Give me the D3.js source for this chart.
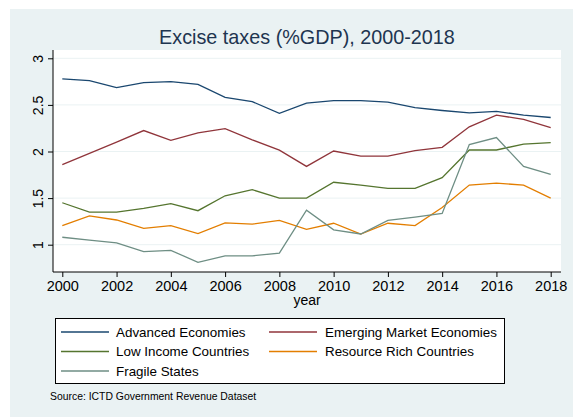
<!DOCTYPE html>
<html><head><meta charset="utf-8">
<script src="https://cdn.jsdelivr.net/npm/d3@7"></script>
<style>body{margin:0;background:#fff;}text{font-family:"Liberation Sans",Arial,sans-serif;}</style>
</head><body><svg id="c" width="573" height="417"></svg>
<script>
const years = [2000,2001,2002,2003,2004,2005,2006,2007,2008,2009,2010,2011,2012,2013,2014,2015,2016,2017,2018];
const advanced = [2.78,2.76,2.685,2.74,2.75,2.72,2.58,2.535,2.41,2.52,2.545,2.545,2.53,2.47,2.44,2.415,2.43,2.39,2.365];
const emerging = [1.86,1.98,2.10,2.225,2.12,2.20,2.245,2.125,2.015,1.84,2.005,1.95,1.95,2.01,2.045,2.265,2.39,2.345,2.255];
const lowIncome = [1.45,1.35,1.35,1.39,1.44,1.365,1.525,1.59,1.50,1.50,1.67,1.64,1.605,1.605,1.72,2.016,2.016,2.08,2.095];
const resourceRich = [1.205,1.31,1.265,1.175,1.205,1.12,1.235,1.22,1.26,1.165,1.23,1.115,1.23,1.205,1.40,1.64,1.66,1.64,1.50];
const fragile = [1.08,1.05,1.02,0.925,0.94,0.81,0.88,0.88,0.91,1.37,1.16,1.115,1.26,1.295,1.335,2.075,2.15,1.84,1.755];
const seriesNames = ["Advanced Economies","Emerging Market Economies","Low Income Countries","Resource Rich Countries","Fragile States"];
const seriesColors = ["#1a476f","#90353b","#55752f","#e37e00","#6e8e84"];
const xTicks = [2000,2002,2004,2006,2008,2010,2012,2014,2016,2018];
const yTicks = [1,1.5,2,2.5,3];

const svg = d3.select("#c");
svg.append("rect").attr("x",10).attr("y",9).attr("width",563).attr("height",408).attr("fill","#eaf2f3");
const plot = {l:53,r:561,t:50,b:272};
svg.append("rect").attr("x",plot.l).attr("y",plot.t).attr("width",plot.r-plot.l).attr("height",plot.b-plot.t).attr("fill","#fff");

const x = d3.scaleLinear().domain([2000,2018]).range([62.3,550.7]);
const y = d3.scaleLinear().domain([1,3]).range([244.7,58.3]);

svg.append("g").selectAll("line").data(yTicks).join("line")
  .attr("x1",plot.l).attr("x2",plot.r).attr("y1",d=>y(d)).attr("y2",d=>y(d))
  .attr("stroke","#eaf2f3").attr("stroke-width",1);

const yAxis = svg.append("g").attr("transform",`translate(${plot.l},0)`)
  .call(d3.axisLeft(y).tickValues(yTicks).tickSize(5).tickPadding(0).tickFormat(d3.format("")));
yAxis.select(".domain").remove();
yAxis.append("line").attr("x1",0).attr("x2",0).attr("y1",plot.t).attr("y2",plot.b).attr("stroke","#000");
yAxis.selectAll(".tick line").attr("stroke","#000");
yAxis.selectAll(".tick text").attr("transform","translate(-15,0) rotate(-90)").attr("text-anchor","middle")
  .attr("x",0).attr("dy","0.35em").attr("font-size",14).attr("fill","#000").style("font-family","Liberation Sans, Arial, sans-serif");

const xAxis = svg.append("g").attr("transform",`translate(0,${plot.b})`)
  .call(d3.axisBottom(x).tickValues(xTicks).tickSize(5).tickPadding(4).tickFormat(d3.format("d")));
xAxis.select(".domain").remove();
xAxis.append("line").attr("x1",plot.l).attr("x2",plot.r).attr("y1",0).attr("y2",0).attr("stroke","#000");
xAxis.selectAll(".tick line").attr("stroke","#000");
xAxis.selectAll(".tick text").attr("font-size",14.5).attr("fill","#000").style("font-family","Liberation Sans, Arial, sans-serif");

svg.append("text").attr("x",307).attr("y",305).attr("text-anchor","middle").attr("font-size",14).attr("fill","#000").text("year");
svg.append("text").attr("x",307).attr("y",44).attr("text-anchor","middle").attr("font-size",19.8).attr("fill","#1e3550").text("Excise taxes (%GDP), 2000-2018");

const allSeries = [advanced,emerging,lowIncome,resourceRich,fragile];
const line = d3.line().x((d,i)=>x(years[i])).y(d=>y(d));
svg.append("g").selectAll("path").data(allSeries).join("path")
  .attr("d",line).attr("fill","none").attr("stroke",(d,i)=>seriesColors[i]).attr("stroke-width",1.3);

// legend
svg.append("rect").attr("x",55.5).attr("y",318.5).attr("width",449).attr("height",65).attr("fill","#fff").attr("stroke","#000");
const lg = svg.append("g").selectAll("g").data(seriesNames).join("g")
  .attr("transform",(d,i)=>`translate(${i%2===0?61:269},${332+Math.floor(i/2)*19.5})`);
lg.append("line").attr("x1",0).attr("x2",48).attr("stroke",(d,i)=>seriesColors[i]).attr("stroke-width",1.3);
lg.append("text").attr("x",(d,i)=>i%2===0?55:56).attr("dy","0.35em").attr("font-size",13.4).attr("fill","#000").text(d=>d);

svg.append("text").attr("x",50).attr("y",400).attr("font-size",10.4).attr("fill","#000").text("Source: ICTD Government Revenue Dataset");
</script></body></html>
